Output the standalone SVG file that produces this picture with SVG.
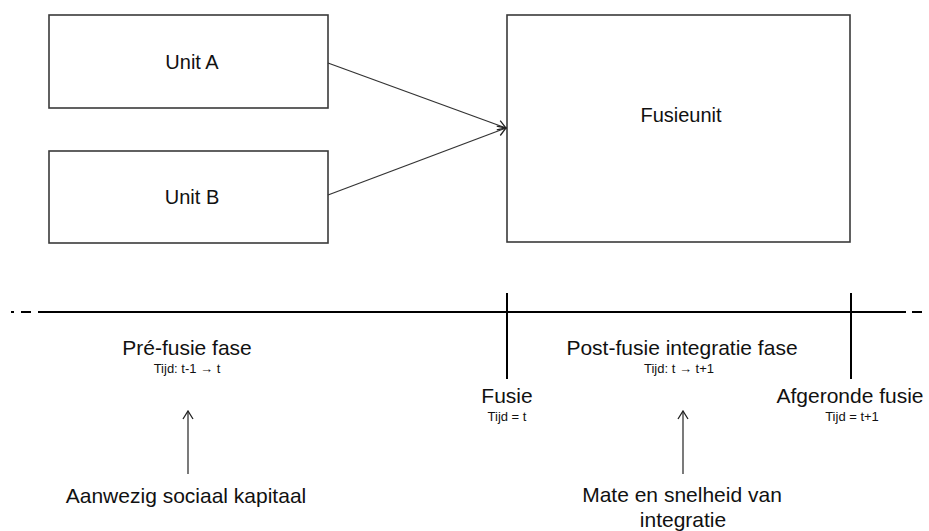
<svg xmlns="http://www.w3.org/2000/svg" width="929" height="531" viewBox="0 0 929 531">
<defs>
<marker id="open" viewBox="0 0 10 12" refX="9" refY="6" markerWidth="10" markerHeight="12" markerUnits="userSpaceOnUse" orient="auto">
<path d="M1,1 L9,6 L1,11" fill="none" stroke="#222" stroke-width="1.3"/>
</marker>
</defs>
<style>
.box{fill:#fff;stroke:#3a3a3a;stroke-width:1.6}
.t{font-family:"Liberation Sans",Arial,sans-serif;fill:#111;text-anchor:middle}
.lbl{font-size:20px}
.big{font-size:21px}
.small{font-size:13px}
.tl{stroke:#000;stroke-width:2;fill:none}
.con{stroke:#333;stroke-width:1.3;fill:none}
</style>
<rect width="929" height="531" fill="#fff"/>
<g id="unitA"><rect class="box" x="49" y="15" width="279" height="93"/><text class="t lbl" x="192" y="69">Unit A</text></g>
<g id="unitB"><rect class="box" x="49" y="151" width="279" height="92"/><text class="t lbl" x="192" y="204">Unit B</text></g>
<g id="fusieunit"><rect class="box" x="507" y="15" width="343" height="227"/><text class="t lbl" x="681" y="122">Fusieunit</text></g>
<g id="connectors">
<line class="con" x1="328" y1="63" x2="506" y2="128" marker-end="url(#open)"/>
<line class="con" x1="328" y1="195" x2="506" y2="128" marker-end="url(#open)"/>
<line class="con" x1="188" y1="474" x2="188" y2="411" marker-end="url(#open)"/>
<line class="con" x1="683" y1="474" x2="683" y2="411" marker-end="url(#open)"/>
</g>
<g id="timeline">
<line class="tl" x1="11" y1="312" x2="14" y2="312"/>
<line class="tl" x1="21" y1="312" x2="31" y2="312"/>
<line class="tl" x1="38" y1="312" x2="906" y2="312"/>
<line class="tl" x1="912" y1="312" x2="922" y2="312"/>
<line class="tl" x1="507" y1="293" x2="507" y2="379"/>
<line class="tl" x1="851" y1="293" x2="851" y2="379"/>
</g>
<g id="prefusie"><text class="t big" x="187" y="355">Pré-fusie fase</text><text class="t small" x="187" y="373">Tijd: t-1 → t</text></g>
<g id="postfusie"><text class="t big" x="682" y="355">Post-fusie integratie fase</text><text class="t small" x="679" y="373">Tijd: t → t+1</text></g>
<g id="fusie"><text class="t big" x="507" y="403">Fusie</text><text class="t small" x="507" y="421">Tijd = t</text></g>
<g id="afgerond"><text class="t big" x="850" y="403">Afgeronde fusie</text><text class="t small" x="852" y="421">Tijd = t+1</text></g>
<g id="sociaal"><text class="t big" x="186" y="503">Aanwezig sociaal kapitaal</text></g>
<g id="mate"><text class="t big" x="682" y="502">Mate en snelheid van</text><text class="t big" x="683" y="527">integratie</text></g>
</svg>
